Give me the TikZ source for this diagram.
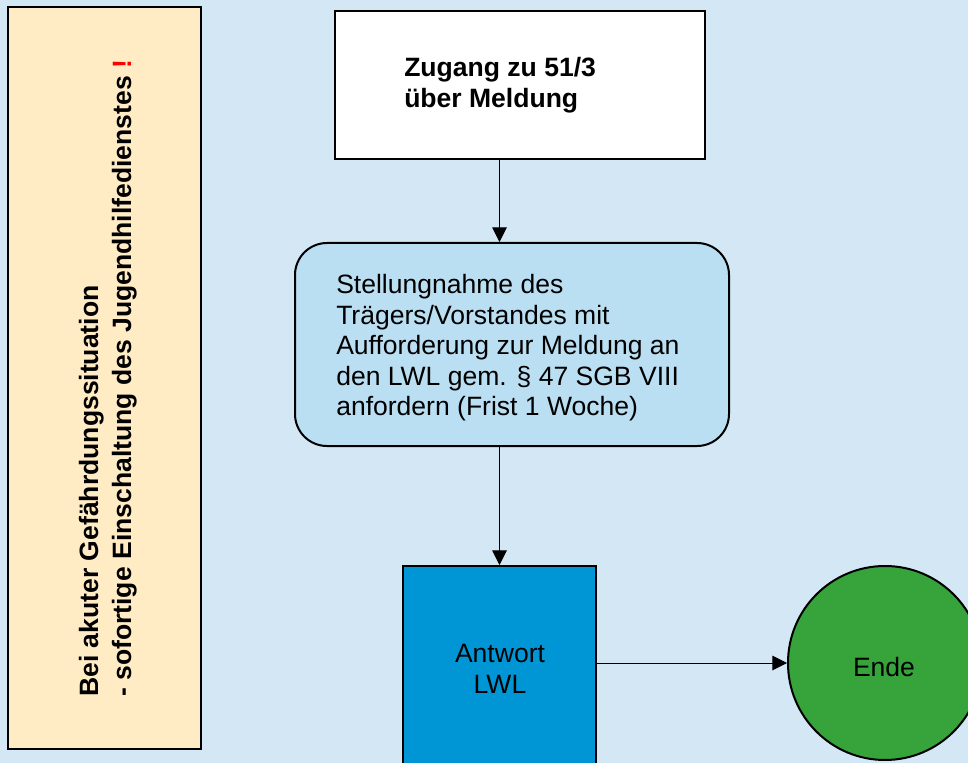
\documentclass[tikz,border=0pt]{standalone}
\usepackage{fontspec}
\setmainfont{Liberation Sans}
\usetikzlibrary{arrows.meta,shapes.geometric,calc}
\definecolor{bgblue}{RGB}{211,231,245}
\definecolor{cream}{RGB}{255,236,197}
\definecolor{paleblue}{RGB}{187,223,242}
\definecolor{midblue}{RGB}{0,150,214}
\definecolor{endgreen}{RGB}{55,163,59}
\tikzset{
  shapebox/.style={draw=black, line width=1.5pt, rectangle, inner sep=0pt},
  arr/.style={draw=black, line width=0.75pt, -{Triangle[length=11pt,width=11pt]}},
  txt/.style={inner sep=0pt, align=left, font=\fontsize{19.9pt}{22.9pt}\selectfont},
  btxt/.style={inner sep=0pt, align=left, font=\fontsize{19.9pt}{22.9pt}\selectfont\bfseries},
}
\begin{document}
\begin{tikzpicture}[x=0.75pt,y=-0.75pt]
\useasboundingbox (0,0) rectangle (968,763);
\clip (0,0) rectangle (968,763);
\fill[bgblue] (0,0) rectangle (968,763);
% left note box
\node[shapebox, fill=cream, minimum width=144.75pt, minimum height=556.5pt] (note) at (104.5,378) {};
\node[btxt, rotate=90, anchor=south west, font=\fontsize{19.9pt}{24.75pt}\selectfont\bfseries] (notetext) at (137,697)
  {Bei akuter Gefährdungssituation\\- sofortige Einschaltung des Jugendhilfedienstes \textcolor{red}{!}};
% top box
\node[shapebox, fill=white, minimum width=277.5pt, minimum height=111pt] (zug) at (520,85) {};
\node[btxt, anchor=north west] (zugtext) at (404,57) {Zugang zu 51/3\\über Meldung};
% rounded box
\node[shapebox, fill=paleblue, rounded corners=24pt, minimum width=325.5pt, minimum height=152.25pt] (stell) at (512,344.5) {};
\node[txt, anchor=north west] (stelltext) at (336,274) {Stellungnahme des\\Trägers/Vorstandes mit\\Aufforderung zur Meldung an\\den LWL gem. § 47 SGB VIII\\anfordern (Frist 1 Woche)};
% answer box
\node[shapebox, fill=midblue, minimum width=144.75pt, minimum height=160.5pt] (antw) at (499.5,673) {};
\node[txt, align=center] (antwtext) at (500,669) {Antwort\\LWL};
% end circle
\node[draw=black, line width=1.5pt, fill=endgreen, circle, inner sep=0pt, minimum size=145.5pt] (ende) at (885,663) {};
\node[txt] (endetext) at (884,667) {Ende};
% connectors
\draw[arr] (zug.south -| antw.north) -- (stell.north -| antw.north);
\draw[arr] (stell.south -| antw.north) -- (antw.north);
\draw[arr] (antw.east |- ende.west) -- (ende.west);
\end{tikzpicture}
\end{document}
